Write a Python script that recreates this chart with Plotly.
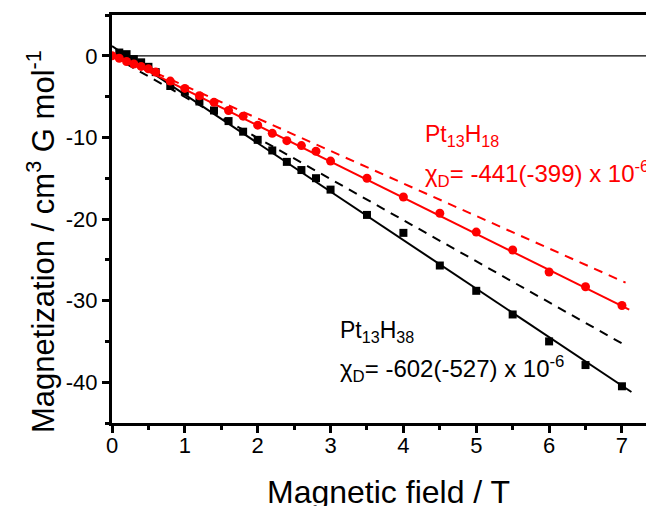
import plotly.graph_objects as go

# Pt13H38 (black squares)
black_x = [0.1, 0.2, 0.3, 0.4, 0.5, 0.6, 0.8, 1.0, 1.2, 1.4, 1.6, 1.8, 2.0, 2.2, 2.4, 2.6, 2.8, 3.0, 3.5, 4.0, 4.5, 5.0, 5.5, 6.0, 6.5, 7.0]
black_y = [0.4, 0.2, -0.4, -0.8, -1.35, -2.0, -3.7, -4.4, -5.6, -6.7, -8.0, -9.3, -10.3, -11.6, -13.0, -14.0, -15.0, -16.4, -19.5, -21.7, -25.7, -28.8, -31.7, -35.0, -37.9, -40.5]
# Pt13H18 (red circles)
red_x = [0.0, 0.1, 0.2, 0.3, 0.4, 0.5, 0.6, 0.8, 1.0, 1.2, 1.4, 1.6, 1.8, 2.0, 2.2, 2.4, 2.6, 2.8, 3.0, 3.5, 4.0, 4.5, 5.0, 5.5, 6.0, 6.5, 7.0]
red_y = [0.0, -0.3, -0.7, -1.0, -1.3, -1.6, -2.0, -3.1, -4.0, -4.9, -5.7, -6.7, -7.4, -8.5, -9.5, -10.4, -11.0, -11.7, -12.9, -15.0, -17.3, -19.3, -21.6, -23.8, -26.5, -28.3, -30.6]

# Fit lines (endpoints)
black_fit_x = [0.0, 7.13]
black_fit_y = [1.2, -41.2]
black_dash_x = [0.0, 7.03]
black_dash_y = [0.0, -35.4]
red_fit_x = [0.0, 7.1]
red_fit_y = [0.3, -31.1]
red_dash_x = [0.0, 7.05]
red_dash_y = [0.3, -27.8]

zero_x = [0.0, 7.5]
zero_y = [0.0, 0.0]

x_ticks = [0, 1, 2, 3, 4, 5, 6, 7]
x_labels = ["0", "1", "2", "3", "4", "5", "6", "7"]
y_ticks = [0, -10, -20, -30, -40]
y_labels = ["0", "-10", "-20", "-30", "-40"]

RED = "#ff0000"
BLACK = "#000000"
FONT = "Liberation Sans, Arial, sans-serif"

# the page body adds an 8px offset; compensate so the plot lands where intended
OFF = 8
L, T = 112 - OFF, 15 - OFF
W, H = 654 - OFF, 506 - OFF
B = H - (423 - OFF)
R = 0
pw, ph = W - L - R, H - T - B


def px_to_paper(px, py):
    return (px - OFF - L) / pw, (H - B - (py - OFF)) / ph


fig = go.Figure()
fig.add_trace(go.Scatter(x=zero_x, y=zero_y, mode="lines", line=dict(color=BLACK, width=1.3), showlegend=False))
fig.add_trace(go.Scatter(x=black_dash_x, y=black_dash_y, mode="lines", line=dict(color=BLACK, width=2, dash="9px,7px"), showlegend=False))
fig.add_trace(go.Scatter(x=red_dash_x, y=red_dash_y, mode="lines", line=dict(color=RED, width=2, dash="9px,7px"), showlegend=False))
fig.add_trace(go.Scatter(x=black_fit_x, y=black_fit_y, mode="lines", line=dict(color=BLACK, width=2), showlegend=False))
fig.add_trace(go.Scatter(x=black_x, y=black_y, mode="markers", marker=dict(symbol="square", size=8, color=BLACK), showlegend=False))
fig.add_trace(go.Scatter(x=red_fit_x, y=red_fit_y, mode="lines", line=dict(color=RED, width=2), showlegend=False))
fig.add_trace(go.Scatter(x=red_x, y=red_y, mode="markers", marker=dict(symbol="circle", size=9, color=RED), showlegend=False))

xt_x, xt_y = px_to_paper(388, 492)
yt_x, yt_y = px_to_paper(41, 242)

annotations = [
    dict(x=4.27, y=-9.73, xref="x", yref="y", text="Pt<sub>13</sub>H<sub>18</sub>", showarrow=False,
         xanchor="left", yanchor="middle", font=dict(family=FONT, size=23, color=RED)),
    dict(x=4.27, y=-14.43, xref="x", yref="y", text="χ<sub>D</sub>= -441(-399) x 10<sup>-6</sup>", showarrow=False,
         xanchor="left", yanchor="middle", font=dict(family=FONT, size=24, color=RED)),
    dict(x=3.1, y=-33.73, xref="x", yref="y", text="Pt<sub>13</sub>H<sub>38</sub>", showarrow=False,
         xanchor="left", yanchor="middle", font=dict(family=FONT, size=23, color=BLACK)),
    dict(x=3.1, y=-38.33, xref="x", yref="y", text="χ<sub>D</sub>= -602(-527) x 10<sup>-6</sup>", showarrow=False,
         xanchor="left", yanchor="middle", font=dict(family=FONT, size=24, color=BLACK)),
    dict(x=xt_x, y=xt_y, xref="paper", yref="paper", text="Magnetic field / T", showarrow=False,
         xanchor="center", yanchor="middle", font=dict(family=FONT, size=32, color=BLACK)),
    dict(x=yt_x, y=yt_y, xref="paper", yref="paper", text="Magnetization / cm<sup>3</sup> G mol<sup>-1</sup>",
         showarrow=False, textangle=-90, xanchor="center", yanchor="middle",
         font=dict(family=FONT, size=31, color=BLACK)),
]

fig.update_layout(
    width=W, height=H,
    margin=dict(l=L, r=R, t=T, b=B, pad=0, autoexpand=False),
    paper_bgcolor="white", plot_bgcolor="white",
    font=dict(family=FONT, size=22, color=BLACK),
    annotations=annotations,
)

fig.update_xaxes(
    range=[0, 7.44], tickvals=x_ticks, ticktext=x_labels, ticks="outside", ticklen=7, tickwidth=2.5, tickcolor=BLACK,
    showline=True, linewidth=3, linecolor=BLACK, mirror=True, showgrid=False, zeroline=False, automargin=False,
    tickfont=dict(family=FONT, size=22), ticklabelstandoff=-6,
    minor=dict(dtick=0.5, tick0=0, ticks="outside", ticklen=4, tickwidth=2.5, tickcolor=BLACK),
)
fig.update_yaxes(
    range=[-45, 5], tickvals=y_ticks, ticktext=y_labels, ticks="outside", ticklen=7, tickwidth=2.5, tickcolor=BLACK,
    showline=True, linewidth=3, linecolor=BLACK, showgrid=False, zeroline=False, automargin=False,
    tickfont=dict(family=FONT, size=22),
    minor=dict(dtick=5, tick0=0, ticks="outside", ticklen=4, tickwidth=2.5, tickcolor=BLACK),
)

fig.write_html("out.html")
